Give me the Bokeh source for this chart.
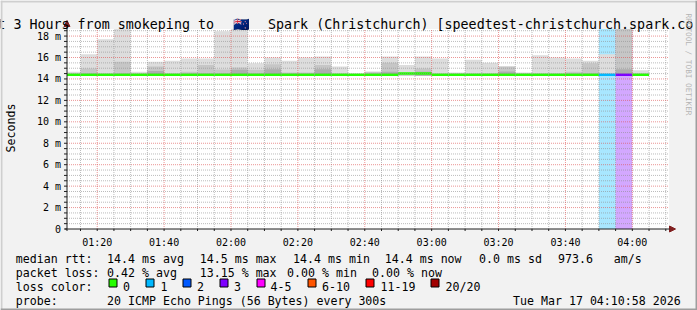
import math
from datetime import datetime
from bokeh.plotting import figure
from bokeh.models import (Label, BoxAnnotation, Range1d, ColumnDataSource, Arrow, NormalHead)
from bokeh.core.properties import value
from bokeh.embed import file_html
from bokeh.resources import INLINE

# ---------------- data ----------------
interval_start = ["01:10", "01:15", "01:20", "01:25", "01:30", "01:35", "01:40",
                  "01:45", "01:50", "01:55", "02:00", "02:05", "02:10", "02:15",
                  "02:20", "02:25", "02:30", "02:35", "02:40", "02:45", "02:50",
                  "02:55", "03:00", "03:05", "03:10", "03:15", "03:20", "03:25",
                  "03:30", "03:35", "03:40", "03:45", "03:50", "03:55", "04:00"]
median_ms = [14.4, 14.4, 14.4, 14.4, 14.4, 14.4, 14.4, 14.4, 14.4, 14.4, 14.4, 14.4,
             14.4, 14.4, 14.4, 14.4, 14.4, 14.4, 14.4, 14.4, 14.5, 14.5, 14.4, 14.4,
             14.4, 14.4, 14.4, 14.4, 14.4, 14.4, 14.4, 14.4, 14.4, 14.4, 14.4]
loss_count = [0, 0, 0, 0, 0, 0, 0, 0, 0, 0, 0, 0, 0, 0, 0, 0, 0, 0, 0, 0, 0, 0, 0, 0,
              0, 0, 0, 0, 0, 0, 0, 0, 1, 3, 0]
smoke_min = [14.3, 14.3, 14.3, 14.3, 14.3, 14.3, 14.3, 14.3, 14.3, 14.3, 14.3, 14.3,
             14.3, 14.3, 14.3, 14.3, 14.3, 14.3, 14.3, 14.3, 14.3, 14.3, 14.3, 14.3,
             14.3, 14.3, 14.3, 14.3, 14.3, 14.3, 14.3, 14.3, 14.3, 14.3, 14.3]
smoke_max = [14.66, 16.3, 17.7, 19.0, 14.66, 15.6, 15.7, 15.9, 15.9, 18.45, 19.0, 15.46,
             16.0, 15.7, 16.0, 16.1, 15.15, 14.45, 14.66, 16.1, 15.3, 16.1, 15.9, 14.6,
             15.8, 15.5, 15.15, 14.6, 16.2, 16.0, 15.9, 15.7, 16.3, 19.0, 14.8]
smoke_mid = [None, 14.97, None, 15.6, None, 15.15, None, 14.66, 15.3, 14.87, 15.06, 14.85,
             15.37, 14.6, 14.6, 15.3, None, None, 14.66, 15.5, 14.6, 14.97, None, None,
             None, None, 15.15, None, None, None, 14.66, 15.46, None, 19.0, None]
smoke_dark = [None, None, None, None, None, 14.75, None, None, None, None, 14.85, None,
              14.9, None, None, 14.9, None, None, None, 14.66, None, 14.66, None, None,
              None, None, 14.7, None, None, None, None, None, None, 14.9, None]

x_tick_labels = ["01:20", "01:40", "02:00", "02:20", "02:40", "03:00", "03:20", "03:40", "04:00"]
y_tick_values = [0, 2, 4, 6, 8, 10, 12, 14, 16, 18]
y_tick_labels = ["0", "2 m", "4 m", "6 m", "8 m", "10 m", "12 m", "14 m", "16 m", "18 m"]
y_minor_values = [0.5, 1, 1.5, 2.5, 3, 3.5, 4.5, 5, 5.5, 6.5, 7, 7.5, 8.5, 9, 9.5, 10.5, 11,
                  11.5, 12.5, 13, 13.5, 14.5, 15, 15.5, 16.5, 17, 17.5, 18.5]
x_minor_labels = ["01:15", "01:25", "01:30", "01:35", "01:45", "01:50", "01:55", "02:05",
                  "02:10", "02:15", "02:25", "02:30", "02:35", "02:45", "02:50", "02:55",
                  "03:05", "03:10", "03:15", "03:25", "03:30", "03:35", "03:45", "03:50",
                  "03:55", "04:05", "04:10"]

loss_legend_labels = ["0", "1", "2", "3", "4-5", "6-10", "11-19", "20/20"]
loss_legend_colors = ["#26ff00", "#00b8ff", "#0059ff", "#7e00ff", "#ff00ff", "#ff5500", "#ff0000", "#a10000"]
loss_bucket = {0: 0, 1: 1, 2: 2, 3: 3, 4: 4, 5: 4}

title_left = "Last 3 Hours from smokeping to"
title_flag = "\U0001F1F3\U0001F1FF"
title_right = "Spark (Christchurch) [speedtest-christchurch.spark.co.nz]"
stats_rtt = [("median rtt:", 15.3), ("14.4 ms avg", 106.6), ("14.5 ms max", 199.3),
             ("14.4 ms min", 292.6), ("14.4 ms now", 384.3), ("0.0 ms sd", 478.6),
             ("973.6", 557.6), ("am/s", 613.3)]
stats_loss = [("packet loss:", 15.3), ("0.42 % avg", 106.6), ("13.15 % max", 199.3),
              ("0.00 % min", 286.6), ("0.00 % now", 371.6)]
probe_text = "20 ICMP Echo Pings (56 Bytes) every 300s"
stamp_text = "Tue Mar 17 04:10:58 2026"

# ---------------- geometry ----------------
EPOCH = datetime(1970, 1, 1)


def to_ms(hhmm, sec=0):
    h, m = map(int, hhmm.split(":"))
    return (datetime(2026, 3, 17, h, m, sec) - EPOCH).total_seconds() * 1000.0


STEP = 5 * 60 * 1000.0
W, H = 697, 310
PL, PR, PT, PB = 66.5, 668.5, 28.5, 228.5      # plot area in canvas px
T0, T1 = to_ms("01:10", 58), to_ms("04:10", 58)
VMAX = 18.66
MS_PER_PX = (T1 - T0) / (PR - PL)
V_PER_PX = VMAX / (PB - PT)
MONO = "DejaVu Sans Mono"


def px_t(X):        # canvas x -> time
    return T0 + (X - PL) * MS_PER_PX


def px_v(Y):        # canvas y -> value
    return (PB - Y) * V_PER_PX


p = figure(width=W, height=H,
           x_range=Range1d(px_t(0), px_t(W)), y_range=Range1d(px_v(H), px_v(0)),
           output_backend="svg", toolbar_location=None,
           x_axis_location=None, y_axis_location=None,
           min_border=0, min_border_left=0, min_border_right=0,
           min_border_top=0, min_border_bottom=0,
           background_fill_color="#f2f2f2", border_fill_color="#f2f2f2",
           outline_line_color=None)
p.grid.visible = False

# white canvas of the graph
p.quad(left=[T0], right=[T1], bottom=[0], top=[VMAX], fill_color="#ffffff", line_color=None)

lefts = [to_ms(t) for t in interval_start]
rights = [l + STEP for l in lefts]

# loss backgrounds
bg = dict(left=[], right=[], color=[])
for l, r, lc in zip(lefts, rights, loss_count):
    if lc > 0:
        bg["left"].append(l)
        bg["right"].append(min(r, T1))
        bg["color"].append(loss_legend_colors[loss_bucket[lc]])
p.quad(left="left", right="right", bottom=0, top=VMAX, fill_color="color",
       fill_alpha=0.34, line_color=None, source=ColumnDataSource(bg))

# smoke layers
for vals, col in ((smoke_max, "#dddddd"), (smoke_mid, "#c6c6c6"), (smoke_dark, "#adadad")):
    d = dict(left=[], right=[], bottom=[], top=[])
    for l, r, lo, v in zip(lefts, rights, smoke_min, vals):
        if v is not None:
            d["left"].append(max(l, T0))
            d["right"].append(min(r, T1))
            d["bottom"].append(lo)
            d["top"].append(min(v, VMAX))
    p.quad(left="left", right="right", bottom="bottom", top="top",
           fill_color=col, line_color=None, source=ColumnDataSource(d))

# median line coloured by loss
p.segment(x0=[max(l, T0) for l in lefts], x1=rights, y0=median_ms, y1=median_ms,
          line_color=[loss_legend_colors[loss_bucket[c]] for c in loss_count],
          line_width=2.5)

# grid (dotted, drawn on top of the data as rrdtool does)
xmin_t = [to_ms(t) for t in x_minor_labels]
xmaj_t = [to_ms(t) for t in x_tick_labels]
p.segment(x0=xmin_t, x1=xmin_t, y0=[0] * len(xmin_t), y1=[VMAX] * len(xmin_t),
          line_color="#8f8f8f", line_alpha=0.6, line_width=1, line_dash="1 1")
p.segment(x0=[T0] * len(y_minor_values), x1=[T1] * len(y_minor_values),
          y0=y_minor_values, y1=y_minor_values,
          line_color="#8f8f8f", line_alpha=0.6, line_width=1, line_dash="1 1")
p.segment(x0=xmaj_t, x1=xmaj_t, y0=[0] * len(xmaj_t), y1=[VMAX] * len(xmaj_t),
          line_color="#de4f4f", line_alpha=0.6, line_width=1, line_dash="1 1")
p.segment(x0=[T0] * 9, x1=[T1] * 9, y0=y_tick_values[1:], y1=y_tick_values[1:],
          line_color="#de4f4f", line_alpha=0.6, line_width=1, line_dash="1 1")

# axis ticks
all_y = sorted(y_tick_values + y_minor_values)
p.segment(x0=[px_t(PL - 3)] * len(all_y), x1=[T0] * len(all_y), y0=all_y, y1=all_y,
          line_color="#1f1f1f", line_width=1)
all_x = sorted(xmin_t + xmaj_t)
p.segment(x0=all_x, x1=all_x, y0=[px_v(PB + 2)] * len(all_x), y1=[0] * len(all_x),
          line_color="#1f1f1f", line_width=1)

# tick labels
p.text(x=[px_t(60.6)] * len(y_tick_values), y=y_tick_values, text=y_tick_labels,
       text_font=value(MONO), text_font_size=value("10px"), text_color="#000000",
       text_align="right", text_baseline="middle")
p.text(x=xmaj_t, y=[px_v(242.0)] * len(xmaj_t), text=x_tick_labels,
       text_font=value(MONO), text_font_size=value("10px"), text_color="#000000",
       text_align="center", text_baseline="alphabetic")

# axes with arrows (screen units: x from left, y from bottom of the canvas)
ARROW = "#801f1f"
p.add_layout(Arrow(end=NormalHead(size=6, fill_color=ARROW, line_color=ARROW, line_width=1),
                   x_start=PL, y_start=H - PB - 2, x_end=PL, y_end=H - 20,
                   start_units="screen", end_units="screen", line_color="#1f1f1f", line_width=1))
p.add_layout(Arrow(end=NormalHead(size=6, fill_color=ARROW, line_color=ARROW, line_width=1),
                   x_start=PL - 2, y_start=H - PB, x_end=675, y_end=H - PB,
                   start_units="screen", end_units="screen", line_color="#1f1f1f", line_width=1))


def text(t, X, Y, size="11.6px", align="left", baseline="alphabetic", angle=0.0,
         color="#000000"):
    p.add_layout(Label(x=X, y=H - Y, x_units="screen", y_units="screen", text=t,
                       text_font=MONO, text_font_size=size, text_color=color,
                       text_align=align, text_baseline=baseline, angle=angle))


# title
text(title_left, 213.5, 23.5, size="13.33px", align="right")
text(title_flag, 240.5, 23.5, size="13.33px", align="center")
text(title_right, 267.5, 23.5, size="13.33px", align="left")

# y-axis label and watermark
text("Seconds", 10.5, 127.5, baseline="middle", align="center", angle=math.pi / 2)
text("RRDTOOL / TOBI OETIKER", 688, 64, size="7.7px", baseline="middle", align="center",
     angle=-math.pi / 2, color="#b4b4b4")

# legend rows
for t, X in stats_rtt:
    text(t, X, 258.3)
for t, X in stats_loss:
    text(t, X, 272.3)
text("loss color:", 15.3, 286.2)
box_x = [108.5, 145.5, 182.5, 219.5, 256.5, 307.5, 365.5, 430.5]
lab_x = [122.6, 160.0, 196.6, 233.6, 270.0, 321.6, 380.0, 445.0]
for lab, col, bx, lx in zip(loss_legend_labels, loss_legend_colors, box_x, lab_x):
    p.add_layout(BoxAnnotation(left=bx, right=bx + 8, top=278.5, bottom=286.5,
                               left_units="canvas", right_units="canvas",
                               top_units="canvas", bottom_units="canvas",
                               fill_color=col, fill_alpha=1.0,
                               line_color="#000000", line_width=1, line_alpha=1.0))
    text(lab, lx, 286.2)
text("probe:", 15.3, 300.0)
text(probe_text, 106.6, 300.0)
text(stamp_text, 512.6, 300.0)

# rrdtool shading around the canvas
for (l, r, t, b, c) in ((0, W, 0, 2, "#cfcfcf"), (0, 2, 0, H, "#cfcfcf"),
                        (0, W, H - 2, H, "#9e9e9e"), (W - 2, W, 0, H, "#9e9e9e")):
    p.add_layout(BoxAnnotation(left=l, right=r, top=t, bottom=b,
                               left_units="canvas", right_units="canvas",
                               top_units="canvas", bottom_units="canvas",
                               fill_color=c, fill_alpha=1.0, line_color=None))

open("out.html", "w").write(file_html(p, INLINE))
